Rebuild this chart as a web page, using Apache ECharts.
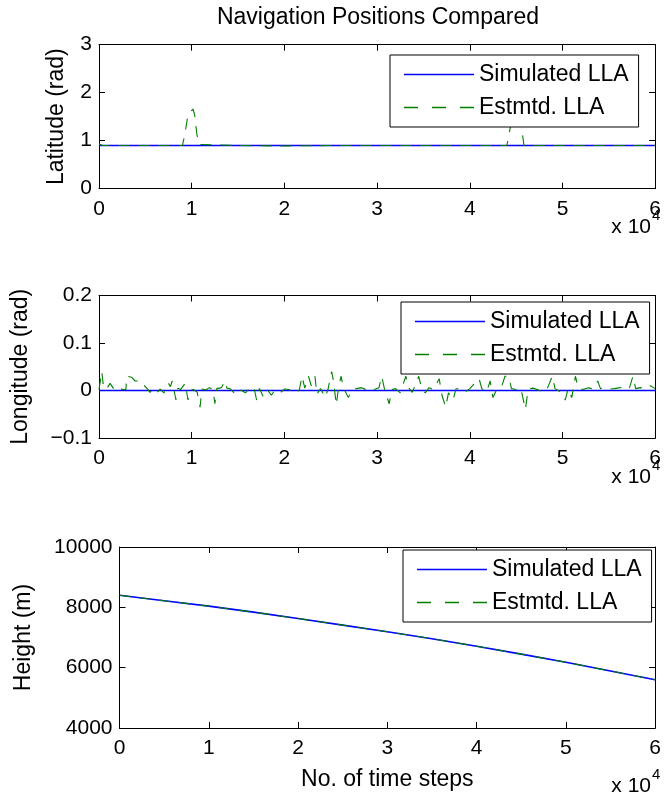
<!DOCTYPE html>
<html><head><meta charset="utf-8">
<script src="https://cdn.jsdelivr.net/npm/echarts@6/dist/echarts.min.js"></script>
<style>html,body{margin:0;padding:0;background:#fff}#c{width:664px;height:800px}</style>
</head><body><div id="c"></div>
<script>
// ---- data ----
const xTickLabels = ['0','1','2','3','4','5','6'];
const latTickLabels = ['0','1','2','3'];
const lonTickLabels = ['\u22120.1','0','0.1','0.2'];
const heightTickLabels = ['4000','6000','8000','10000'];
const seriesNames = ['Simulated LLA','Estmtd. LLA'];

const simSteps = [0,5000,10000,15000,20000,25000,30000,35000,40000,45000,50000,55000,60000];
const latSimulated = [0.9,0.9,0.9,0.9,0.9,0.9,0.9,0.9,0.9,0.9,0.9,0.9,0.9];
const lonSimulated = [0,0,0,0,0,0,0,0,0,0,0,0,0];
const heightSimulated = [8400,8220,8040,7840,7630,7410,7190,6960,6710,6450,6180,5890,5600];
const heightEstimated = [8400,8220,8040,7840,7630,7410,7190,6960,6710,6450,6180,5890,5600];

const latEstSteps = [0,200,400,3000,3200,3400,6000,9000,9250,9600,10140,10320,10570,10800,11000,15000,20000,25000,30000,35000,40000,44000,44200,44700,45100,45600,45850,50000,55000,60000];
const latEstimated = [0.93,0.9,0.9,0.9,0.93,0.9,0.9,0.9,1.12,1.54,1.66,1.54,1.12,0.92,0.9,0.9,0.89,0.9,0.9,0.9,0.9,0.9,1.1,1.6,1.75,1.25,0.9,0.9,0.9,0.9];

const lonEstSteps = [0,300,500,800,1200,1600,2000,2500,2900,3000,3500,3900,4200,4500,4900,5200,5500,5800,6200,6600,7000,7300,7500,7700,7900,8100,8300,8500,8800,9300,9600,9800,10200,10600,10900,11100,11500,11900,12300,12500,12700,13200,13600,13800,14200,14800,15300,15800,16200,16700,17000,17300,17700,18100,18600,19000,19600,20000,20500,21000,21600,21900,22200,22600,22900,23300,23500,23900,24400,24700,25100,25300,25600,25800,26100,26400,26900,27300,27800,28300,28800,29300,29700,30200,30500,30800,31300,31600,32000,32500,33100,33400,33800,34500,34800,35200,35600,36100,36700,37000,37400,37700,38200,38500,39000,39500,40000,41000,41300,41800,42200,42500,42900,43400,43800,44200,44500,45000,45500,46000,46300,46800,47300,47900,48400,48900,49200,49800,50300,50600,51000,51400,51700,52200,52800,53300,53800,54100,54600,55100,55600,56200,56600,57200,57600,57900,58400,58900,59500,60000];
const lonEstimated = [0.002,0.04,0.005,0.003,0.015,0.003,0.008,0.002,0.002,0.03,0.028,0.02,0.02,0.01,0.01,0.004,-0.004,0.002,-0.006,0.003,-0.005,0.005,0.015,0.008,0.02,0.0,-0.02,0.005,0.002,0.015,-0.02,0.0,0.002,-0.004,-0.035,0.003,0.001,0.006,0.002,-0.028,0.004,0.006,0.02,0.005,0.003,-0.01,0.001,-0.005,0.004,0.008,-0.02,0.004,-0.012,0.003,-0.01,0.002,-0.004,0.003,0.002,-0.005,0.0,0.03,0.005,0.03,0.01,0.03,-0.008,0.004,-0.015,0.002,0.04,0.02,-0.03,0.0,0.03,0.005,-0.015,0.003,0.004,0.006,0.002,0.005,0.002,0.006,0.03,0.003,-0.028,0.002,0.004,-0.005,0.03,0.006,-0.004,0.03,0.004,-0.005,0.006,0.002,0.025,-0.01,-0.035,-0.005,-0.02,0.003,0.005,-0.003,0.004,0.025,0.004,-0.004,0.02,-0.015,0.002,0.006,0.03,0.03,0.004,0.002,0.005,-0.04,0.003,0.005,0.002,-0.004,0.006,0.03,0.004,-0.003,-0.02,0.004,-0.015,0.03,0.005,0.002,0.006,0.003,0.02,0.004,0.006,0.003,0.004,0.006,0.008,0.004,0.03,0.004,0.006,0.003,0.01,0.004];

// ---- chart ----
const FONT = "'Liberation Sans', Arial, Helvetica, sans-serif";
const BLUE = '#0000ff', GREEN = '#008000';
const zip = (xs, ys) => xs.map((x, i) => [x, ys[i]]);

const grids = [
  {left: 99, top: 44.7, width: 558, height: 144},
  {left: 99, top: 295.5, width: 558, height: 142.5},
  {left: 119.5, top: 547, width: 537.5, height: 181}
];
const yDefs = [
  {min: 0, max: 3, interval: 1, labels: latTickLabels, name: 'Latitude (rad)', gap: 31},
  {min: -0.1, max: 0.2, interval: 0.1, labels: lonTickLabels, name: 'Longitude (rad)', gap: 67},
  {min: 4000, max: 10000, interval: 2000, labels: heightTickLabels, name: 'Height (m)', gap: 84}
];
const tick = {inside: true, length: 6, lineStyle: {color: '#000', width: 1}};
const line = {show: true, onZero: false, lineStyle: {color: '#000', width: 1}};

const xAxis = [], yAxis = [];
grids.forEach((g, i) => {
  xAxis.push({type: 'value', gridIndex: i, min: 0, max: 60000, interval: 10000, position: 'bottom',
    axisLine: line, axisTick: tick, splitLine: {show: false},
    name: i === 2 ? 'No. of time steps' : '', nameLocation: 'middle', nameGap: 40,
    nameTextStyle: {fontSize: 23, color: '#000', fontFamily: FONT},
    axisLabel: {fontSize: 21, color: '#000', margin: 10, fontFamily: FONT,
      formatter: v => xTickLabels[Math.round(v / 10000)]}});
  xAxis.push({type: 'value', gridIndex: i, min: 0, max: 60000, interval: 10000, position: 'top',
    axisLine: line, axisTick: tick, splitLine: {show: false}, axisLabel: {show: false}});
  const d = yDefs[i];
  yAxis.push({type: 'value', gridIndex: i, min: d.min, max: d.max, interval: d.interval, position: 'left',
    axisLine: line, axisTick: tick, splitLine: {show: false},
    name: d.name, nameLocation: 'middle', nameRotate: 90, nameGap: d.gap,
    nameTextStyle: {fontSize: 23, color: '#000', fontFamily: FONT},
    axisLabel: {fontSize: 21, color: '#000', margin: 7, fontFamily: FONT,
      formatter: v => d.labels[Math.round((v - d.min) / d.interval)]}});
  yAxis.push({type: 'value', gridIndex: i, min: d.min, max: d.max, interval: d.interval, position: 'right',
    axisLine: line, axisTick: tick, splitLine: {show: false}, axisLabel: {show: false}});
});

function mk(name, idx, data, color, dashed) {
  return {type: 'line', name, xAxisIndex: 2 * idx, yAxisIndex: 2 * idx, data,
    symbol: 'none', showSymbol: false, color, silent: true,
    lineStyle: {color, width: dashed ? 1.1 : 1.6, type: dashed ? [11, 9] : 'solid'}};
}
const series = [
  mk(seriesNames[0], 0, zip(simSteps, latSimulated), BLUE, false),
  mk(seriesNames[1], 0, zip(latEstSteps, latEstimated), GREEN, true),
  mk(seriesNames[0], 1, zip(simSteps, lonSimulated), BLUE, false),
  mk(seriesNames[1], 1, zip(lonEstSteps, lonEstimated), GREEN, true),
  mk(seriesNames[0], 2, zip(simSteps, heightSimulated), BLUE, false),
  mk(seriesNames[1], 2, zip(simSteps, heightEstimated), GREEN, true)
];

const SOLID_ICON = 'path://M0,0h70v1.3h-70z';
const DASH_ICON = 'path://M0,0h14v1.3h-14z M28,0h14v1.3h-14z M56,0h14v1.3h-14z';
const legendPos = [{left: 390, top: 55}, {left: 401, top: 302}, {left: 403, top: 550}];
const legend = legendPos.map(p => ({
  left: p.left, top: p.top, orient: 'vertical', selectedMode: false,
  data: [
    {name: seriesNames[0], icon: SOLID_ICON, itemStyle: {color: BLUE, borderWidth: 0, opacity: 1}},
    {name: seriesNames[1], icon: DASH_ICON, itemStyle: {color: GREEN, borderWidth: 0, opacity: 1}}
  ],
  itemWidth: 70, itemHeight: 24, itemGap: 10, padding: [8, 10, 8, 14],
  backgroundColor: '#fff', borderColor: '#000', borderWidth: 1, borderRadius: 0,
  textStyle: {fontSize: 23, color: '#000', fontFamily: FONT}
}));

function txt(x, y, text, size, align) {
  return {type: 'text', x, y, silent: true,
    style: {text, fontSize: size, fontFamily: FONT, fill: '#000', align: align || 'left', verticalAlign: 'middle'}};
}
const graphic = [
  txt(378, 18, 'Navigation Positions Compared', 23, 'center'),
  txt(651, 227, 'x 10', 21, 'right'), txt(652, 216, '4', 15),
  txt(651, 477, 'x 10', 21, 'right'), txt(652, 466, '4', 15),
  txt(651, 786, 'x 10', 21, 'right'), txt(652, 775, '4', 15)
];

const chart = echarts.init(document.getElementById('c'), null, {renderer: 'canvas', width: 664, height: 800});
chart.setOption({
  animation: false, backgroundColor: '#fff',
  textStyle: {fontFamily: FONT},
  grid: grids, xAxis, yAxis, series, legend, graphic
});
</script></body></html>
